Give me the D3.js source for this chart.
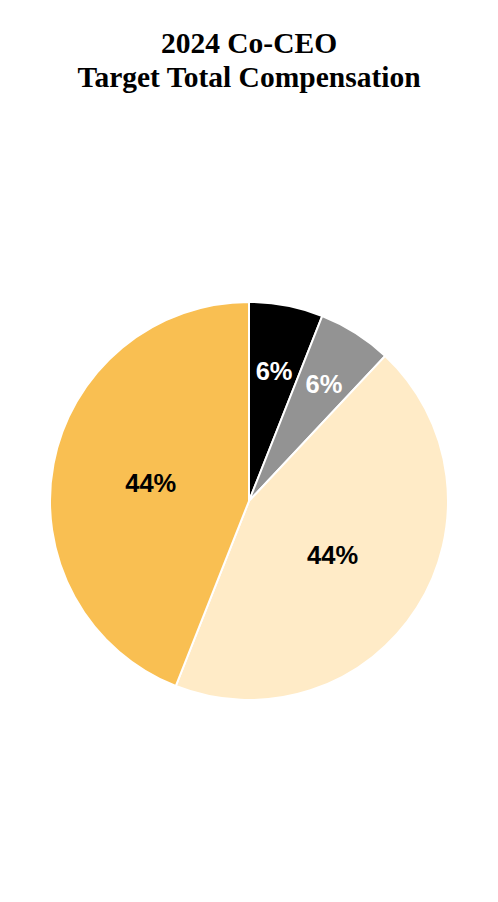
<!DOCTYPE html>
<html><head><meta charset="utf-8">
<script src="https://cdn.jsdelivr.net/npm/d3@7"></script>
<style>body{margin:0;background:#fff}</style>
</head><body>
<script>
const categories = ["Base Salary", "Annual Bonus", "PSUs", "RSUs"];
const values = [6, 6, 44, 44];
const labels = ["6%", "6%", "44%", "44%"];
const colors = ["#000000", "#939393", "#FFEBC7", "#F9BF52"];
const labelColors = ["#ffffff", "#ffffff", "#000000", "#000000"];
const labelRadii = [134, 140, 99, 100];

const W = 498, H = 902;
const svg = d3.select("body").append("svg").attr("width", W).attr("height", H);

const title = svg.append("text").attr("text-anchor", "middle")
  .attr("font-family", "'Liberation Serif','Times New Roman',serif")
  .attr("font-weight", "bold").attr("font-size", 29.5).attr("fill", "#000");
title.append("tspan").attr("x", 249).attr("y", 53).text("2024 Co-CEO");
title.append("tspan").attr("x", 249).attr("y", 87).text("Target Total Compensation");

const cx = 249, cy = 501, r = 199;
const pie = d3.pie().sort(null).value(d => d)(values);
const arc = d3.arc().innerRadius(0).outerRadius(r);
const g = svg.append("g").attr("transform", `translate(${cx},${cy})`);
g.selectAll("path").data(pie).join("path")
  .attr("d", arc).attr("fill", (d, i) => colors[i])
  .attr("stroke", "#fff").attr("stroke-width", 2);

g.selectAll("text.lbl").data(pie).join("text").attr("class", "lbl")
  .attr("transform", (d, i) => {
    const a = (d.startAngle + d.endAngle) / 2;
    const rr = labelRadii[i];
    return `translate(${rr * Math.sin(a)},${-rr * Math.cos(a)})`;
  })
  .attr("text-anchor", "middle").attr("dy", "0.4em")
  .attr("font-family", "'Liberation Sans',Arial,sans-serif")
  .attr("font-weight", "bold").attr("font-size", 25.5)
  .attr("fill", (d, i) => labelColors[i])
  .text((d, i) => labels[i]);
</script>
</body></html>
